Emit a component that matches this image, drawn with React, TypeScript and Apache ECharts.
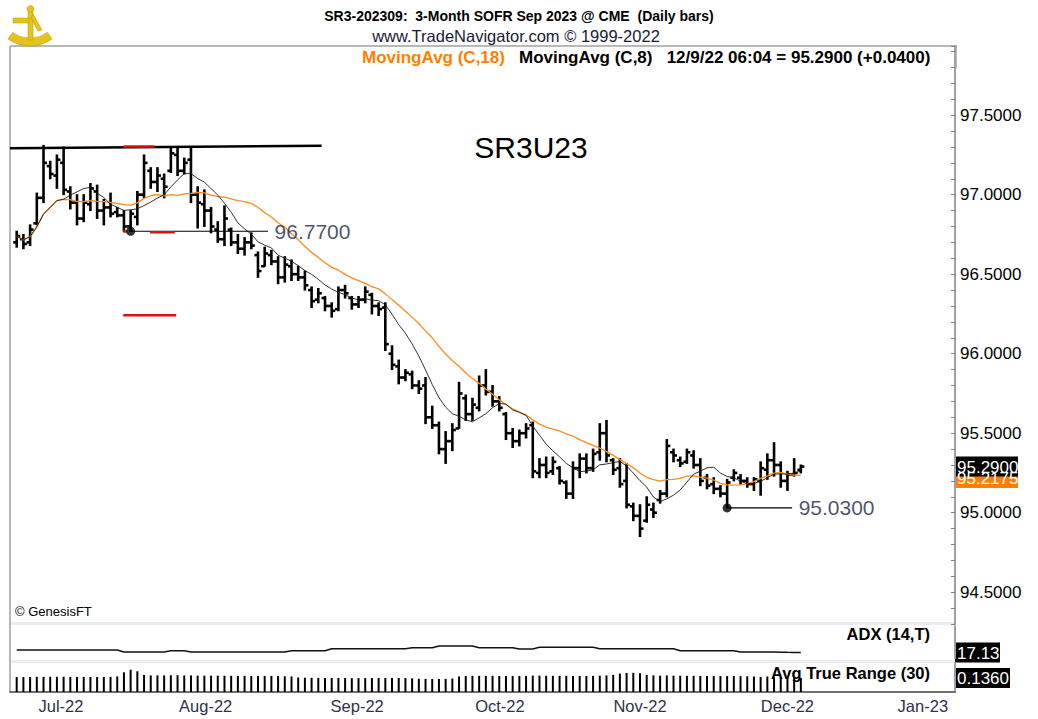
import React, { useEffect, useRef } from "react";
import * as echarts from "echarts";

// ---- Daily OHLC bars (trading-day index 0..117, late Jun 2022 .. 12/9/22) ----
const OPEN = [
  96.70, 96.72, 96.70, 96.82, 96.98, 97.18, 97.12, 97.20, 97.02, 96.95,
  96.85, 96.94, 97.02, 96.90, 96.92, 96.89, 96.87, 96.80, 96.86, 97.00,
  97.15, 97.08, 97.10, 97.15, 97.25, 97.15, 97.22, 97.00, 96.94, 96.90,
  96.78, 96.72, 96.78, 96.70, 96.66, 96.70, 96.62, 96.55, 96.62, 96.58,
  96.48, 96.55, 96.50, 96.48, 96.40, 96.34, 96.35, 96.30, 96.28, 96.40,
  96.35, 96.31, 96.34, 96.37, 96.30, 96.29, 96.00, 95.92, 95.85, 95.87,
  95.80, 95.80, 95.60, 95.55, 95.40, 95.45, 95.53, 95.72, 95.62, 95.66,
  95.80, 95.76, 95.70, 95.62, 95.50, 95.45, 95.50, 95.55, 95.25, 95.30,
  95.26, 95.28, 95.19, 95.12, 95.28, 95.34, 95.28, 95.38, 95.50, 95.33,
  95.28, 95.20, 95.04, 94.98, 94.95, 95.02, 95.08, 95.12, 95.38, 95.33,
  95.32, 95.36, 95.30, 95.22, 95.18, 95.15, 95.12, 95.22, 95.22, 95.20,
  95.18, 95.20, 95.27, 95.33, 95.30, 95.20, 95.24, 95.27,
];
const HIGH = [
  96.77, 96.75, 96.81, 97.01, 97.31, 97.21, 97.25, 97.30, 97.05, 97.00,
  97.00, 97.07, 97.06, 96.97, 97.01, 96.92, 96.90, 96.90, 97.02, 97.25,
  97.17, 97.17, 97.13, 97.30, 97.30, 97.23, 97.30, 97.05, 97.03, 96.92,
  96.83, 96.93, 96.79, 96.75, 96.73, 96.76, 96.64, 96.67, 96.65, 96.61,
  96.61, 96.59, 96.55, 96.52, 96.42, 96.41, 96.36, 96.32, 96.42, 96.43,
  96.36, 96.36, 96.42, 96.38, 96.32, 96.32, 96.05, 95.96, 95.90, 95.89,
  95.83, 95.85, 95.67, 95.57, 95.51, 95.56, 95.82, 95.74, 95.72, 95.86,
  95.90, 95.80, 95.73, 95.63, 95.53, 95.52, 95.56, 95.57, 95.34, 95.35,
  95.35, 95.29, 95.20, 95.32, 95.37, 95.37, 95.40, 95.56, 95.58, 95.34,
  95.34, 95.31, 95.06, 95.05, 95.10, 95.06, 95.14, 95.46, 95.40, 95.35,
  95.40, 95.39, 95.34, 95.24, 95.22, 95.17, 95.21, 95.27, 95.24, 95.22,
  95.22, 95.32, 95.37, 95.44, 95.32, 95.26, 95.34, 95.30,
];
const LOW = [
  96.67, 96.66, 96.68, 96.81, 96.95, 97.10, 97.04, 97.00, 96.91, 96.81,
  96.83, 96.90, 96.85, 96.81, 96.86, 96.86, 96.77, 96.77, 96.81, 96.98,
  97.04, 97.02, 96.98, 97.14, 97.12, 97.13, 96.95, 96.79, 96.80, 96.76,
  96.70, 96.68, 96.68, 96.63, 96.62, 96.66, 96.48, 96.55, 96.56, 96.44,
  96.45, 96.46, 96.46, 96.40, 96.29, 96.32, 96.27, 96.23, 96.27, 96.35,
  96.28, 96.29, 96.32, 96.25, 96.24, 96.02, 95.90, 95.81, 95.83, 95.78,
  95.75, 95.56, 95.53, 95.37, 95.31, 95.39, 95.53, 95.58, 95.58, 95.64,
  95.74, 95.67, 95.64, 95.46, 95.41, 95.42, 95.47, 95.22, 95.22, 95.22,
  95.24, 95.18, 95.09, 95.09, 95.22, 95.25, 95.26, 95.33, 95.32, 95.24,
  95.16, 95.03, 94.95, 94.85, 94.94, 94.97, 95.06, 95.10, 95.32, 95.29,
  95.31, 95.28, 95.17, 95.15, 95.12, 95.10, 95.03, 95.20, 95.18, 95.16,
  95.14, 95.11, 95.21, 95.23, 95.16, 95.14, 95.23, 95.25,
];
const CLOSE = [
  96.74, 96.69, 96.78, 96.98, 97.20, 97.13, 97.22, 97.03, 96.95, 96.85,
  96.95, 97.04, 96.90, 96.92, 96.88, 96.87, 96.80, 96.88, 97.00, 97.20,
  97.08, 97.12, 97.05, 97.26, 97.15, 97.20, 97.00, 96.95, 96.90, 96.80,
  96.72, 96.85, 96.70, 96.66, 96.70, 96.68, 96.52, 96.63, 96.58, 96.48,
  96.56, 96.50, 96.48, 96.43, 96.33, 96.38, 96.30, 96.27, 96.40, 96.38,
  96.31, 96.34, 96.39, 96.30, 96.28, 96.06, 95.93, 95.85, 95.88, 95.80,
  95.78, 95.60, 95.55, 95.40, 95.45, 95.52, 95.75, 95.62, 95.68, 95.80,
  95.76, 95.70, 95.66, 95.50, 95.45, 95.50, 95.53, 95.26, 95.30, 95.25,
  95.32, 95.20, 95.12, 95.28, 95.34, 95.28, 95.37, 95.50, 95.36, 95.27,
  95.18, 95.05, 94.98, 94.90, 95.05, 95.00, 95.12, 95.42, 95.36, 95.31,
  95.38, 95.30, 95.20, 95.17, 95.15, 95.12, 95.19, 95.25, 95.20, 95.18,
  95.21, 95.28, 95.33, 95.30, 95.20, 95.24, 95.25, 95.29,
];

// ---- ADX (14,T) ----
const ADX = [
  25, 25, 25, 25, 25, 25, 25, 25, 25, 25, 25, 25, 25, 25, 25, 25,
  18.8, 18.8, 18.8, 18.8, 18.8, 18.8, 18.8,
  22.9, 22.9, 22.9,
  18.8, 18.8, 18.8, 18.8, 18.8, 18.8, 18.8, 18.8, 18.8, 18.8, 18.8, 18.8, 18.8, 18.8, 18.8,
  22.9, 22.9, 22.9, 22.9, 22.9, 22.9,
  29, 29, 29, 29, 29, 29, 29, 29, 29, 29, 29, 29,
  32.3, 32.3, 32.3, 32.3,
  37.5, 37.5, 37.5, 37.5, 37.5, 37.5,
  32.3, 32.3, 32.3, 32.3, 32.3, 32.3,
  28, 28, 28,
  33.3, 33.3, 33.3, 33.3, 33.3, 33.3, 33.3, 33.3, 33.3,
  29, 29, 29, 29, 29, 29, 29, 29, 29, 29, 29, 29,
  22.9, 22.9, 22.9, 22.9, 22.9, 22.9, 22.9, 22.9, 22.9,
  18.8, 18.8, 18.8, 18.8, 18.8, 18.5, 18.2, 17.8, 17.5, 17.13,
];

// ---- Avg True Range (30) ----
const ATR = [
  0.145, 0.145, 0.145, 0.146, 0.146, 0.147, 0.147, 0.147, 0.146, 0.146,
  0.146, 0.145, 0.145, 0.145, 0.146, 0.150, 0.190, 0.215, 0.200, 0.165,
  0.160, 0.160, 0.160, 0.162, 0.162, 0.160, 0.160, 0.158, 0.158, 0.158,
  0.157, 0.157, 0.156, 0.156, 0.156, 0.155, 0.155, 0.155, 0.155, 0.154,
  0.152, 0.150, 0.140, 0.138, 0.137, 0.136, 0.136, 0.135, 0.135, 0.135,
  0.134, 0.134, 0.134, 0.134, 0.135, 0.136, 0.136, 0.135, 0.134, 0.132,
  0.128, 0.127, 0.126, 0.126, 0.127, 0.130, 0.150, 0.155, 0.156, 0.156,
  0.156, 0.156, 0.155, 0.155, 0.155, 0.155, 0.156, 0.158, 0.158, 0.157,
  0.156, 0.156, 0.156, 0.155, 0.155, 0.155, 0.156, 0.158, 0.160, 0.165,
  0.178, 0.184, 0.185, 0.182, 0.165, 0.160, 0.158, 0.160, 0.158, 0.157,
  0.156, 0.156, 0.155, 0.155, 0.155, 0.154, 0.154, 0.154, 0.153, 0.152,
  0.150, 0.145, 0.150, 0.142, 0.140, 0.137, 0.137, 0.136,
];

// ---- axis tick labels ----
const MONTH_TICKS = [6.6, 28.2, 50.8, 72.1, 93, 115, 135.2];
const MONTH_LABELS = ["Jul-22", "Aug-22", "Sep-22", "Oct-22", "Nov-22", "Dec-22", "Jan-23"];

// ---- readouts / annotations (values) ----
const LAST_CLOSE = 95.29;
const MA18_LAST = 95.2175;
const ADX_LAST = 17.13;
const ATR_LAST = 0.136;
const RESISTANCE: number[][] = [[-1, 97.292], [45.5, 97.308]];
const RED_MARKS: number[][][] = [
  [[15.9, 97.303], [20.6, 97.303]],
  [[19.9, 96.764], [23.6, 96.764]],
  [[15.9, 96.768], [16.5, 96.768]],
  [[15.9, 96.242], [23.8, 96.242]],
];
const SWING_LOWS = [
  { i: 17, v: 96.77, end: 37.5, label: "96.7700" },
  { i: 106, v: 95.03, end: 115.7, label: "95.0300" },
];

const FONT = "'Liberation Sans', Arial, Helvetica, sans-serif";

function movingAvg(values: number[], n: number): number[] {
  return values.map((_, i) => {
    const s = Math.max(0, i - n + 1);
    const w = values.slice(s, i + 1);
    return w.reduce((a, b) => a + b, 0) / w.length;
  });
}

export default function App() {
  const ref = useRef<HTMLDivElement>(null);

  useEffect(() => {
    document.body.style.margin = "0";
    if (!ref.current) return;
    const chart = echarts.init(ref.current, undefined, { renderer: "svg" });

    const ohlc = OPEN.map((o, i) => [i, o, HIGH[i], LOW[i], CLOSE[i]]);
    const ma18 = movingAvg(CLOSE, 18).map((v, i) => [i, v]);
    const ma8 = movingAvg(CLOSE, 8).map((v, i) => [i, v]);

    const xBase = { type: "value", min: -1, max: 140 } as any;
    const grayAxis = { show: true, onZero: false, lineStyle: { color: "#a0a0a0", width: 2 } };

    const series: any[] = [
      {
        type: "custom",
        xAxisIndex: 0,
        yAxisIndex: 0,
        data: ohlc,
        encode: { x: 0, y: [1, 2, 3, 4] },
        z: 3,
        renderItem: (_p: any, api: any) => {
          const i = api.value(0);
          const pO = api.coord([i, api.value(1)]);
          const pH = api.coord([i, api.value(2)]);
          const pL = api.coord([i, api.value(3)]);
          const pC = api.coord([i, api.value(4)]);
          const st = { stroke: "#000", lineWidth: 2.6 };
          return {
            type: "group",
            children: [
              { type: "line", shape: { x1: pH[0], y1: pH[1] - 0.5, x2: pL[0], y2: pL[1] + 0.5 }, style: st },
              { type: "line", shape: { x1: pO[0] - 3.5, y1: pO[1], x2: pO[0], y2: pO[1] }, style: st },
              { type: "line", shape: { x1: pC[0], y1: pC[1], x2: pC[0] + 3.5, y2: pC[1] }, style: st },
            ],
          };
        },
      },
      {
        type: "line",
        name: "MA18",
        data: ma18,
        showSymbol: false,
        symbol: "none",
        z: 4,
        lineStyle: { color: "#ff8a1c", width: 1.3 },
      },
      {
        type: "line",
        name: "MA8",
        data: ma8,
        showSymbol: false,
        symbol: "none",
        z: 4,
        lineStyle: { color: "#1a1a1a", width: 0.9 },
      },
      {
        type: "line",
        data: RESISTANCE,
        symbol: "none",
        z: 5,
        lineStyle: { color: "#000", width: 2.6 },
      },
      ...RED_MARKS.map((seg) => ({
        type: "line",
        data: seg,
        symbol: "none",
        z: 6,
        lineStyle: { color: "#e01010", width: 2.6 },
      })),
      ...SWING_LOWS.map((s) => ({
        type: "line",
        data: [[s.i, s.v], [s.end, s.v]],
        symbol: "none",
        z: 5,
        lineStyle: { color: "#000", width: 1.2 },
      })),
      {
        type: "scatter",
        data: SWING_LOWS.map((s) => [s.i, s.v]),
        symbolSize: 9,
        z: 7,
        itemStyle: { color: "#000" },
      },
      {
        type: "scatter",
        data: SWING_LOWS.map((s) => ({ value: [s.end, s.v], name: s.label })),
        symbolSize: 1,
        z: 7,
        itemStyle: { color: "rgba(0,0,0,0)" },
        label: {
          show: true,
          position: "right",
          distance: 6,
          formatter: (p: any) => p.name,
          fontSize: 21,
          color: "#1c2745",
          fontFamily: FONT,
        },
      },
      {
        type: "line",
        xAxisIndex: 1,
        yAxisIndex: 1,
        data: ADX.map((v, i) => [i, v]),
        symbol: "none",
        lineStyle: { color: "#111", width: 1.5 },
      },
      {
        type: "bar",
        xAxisIndex: 2,
        yAxisIndex: 2,
        data: ATR.map((v, i) => [i, v]),
        barWidth: 2,
        itemStyle: { color: "#000" },
      },
    ];

    const option: any = {
      animation: false,
      backgroundColor: "#ffffff",
      textStyle: { fontFamily: FONT },
      grid: [
        { left: 10, top: 46, width: 945, height: 578, outerBoundsMode: "none" },
        { left: 10, top: 626, width: 945, height: 32, outerBoundsMode: "none" },
        { left: 10, top: 663, width: 945, height: 29, outerBoundsMode: "none" },
      ],
      xAxis: [
        { ...xBase, gridIndex: 0, show: false },
        { ...xBase, gridIndex: 1, show: false },
        {
          ...xBase,
          gridIndex: 2,
          axisLine: { show: true, onZero: false, lineStyle: { color: "#707070", width: 2 } },
          axisTick: { show: false },
          splitLine: { show: false },
          axisLabel: {
            customValues: MONTH_TICKS,
            formatter: (v: number) => {
              let best = 0;
              MONTH_TICKS.forEach((t, k) => {
                if (Math.abs(t - v) < Math.abs(MONTH_TICKS[best] - v)) best = k;
              });
              return MONTH_LABELS[best];
            },
            fontSize: 16.5,
            color: "#30304a",
            margin: 5,
            fontFamily: FONT,
          },
        },
      ],
      yAxis: [
        {
          type: "value",
          gridIndex: 0,
          position: "right",
          min: 94.3,
          max: 97.935,
          interval: 0.1,
          axisLine: grayAxis,
          axisTick: { show: true, inside: true, length: 4, lineStyle: { color: "#808080" } },
          splitLine: { show: false },
          axisLabel: {
            fontSize: 17,
            color: "#000",
            margin: 5,
            fontFamily: FONT,
            formatter: (v: number) =>
              Math.abs(v * 2 - Math.round(v * 2)) < 1e-6 ? v.toFixed(4) : "",
          },
        },
        {
          type: "value",
          gridIndex: 1,
          position: "right",
          min: 0,
          max: 100,
          axisLine: grayAxis,
          axisTick: { show: false },
          axisLabel: { show: false },
          splitLine: { show: false },
        },
        {
          type: "value",
          gridIndex: 2,
          position: "right",
          min: 0,
          max: 0.28,
          axisLine: grayAxis,
          axisTick: { show: false },
          axisLabel: { show: false },
          splitLine: { show: false },
        },
      ],
      series,
    };

    chart.setOption(option);

    const yClose = chart.convertToPixel({ yAxisIndex: 0 } as any, LAST_CLOSE) as number;
    const yMa = chart.convertToPixel({ yAxisIndex: 0 } as any, MA18_LAST) as number;
    const yAdx = chart.convertToPixel({ yAxisIndex: 1 } as any, ADX_LAST) as number;
    const yAtr = chart.convertToPixel({ yAxisIndex: 2 } as any, ATR_LAST) as number;

    const txt = (text: string, x: number, y: number, o: any = {}) => ({
      type: "text",
      x,
      y,
      z: 20,
      style: {
        text,
        fill: o.fill || "#000",
        fontSize: o.size || 16,
        fontWeight: o.weight || "normal",
        fontFamily: FONT,
        align: o.align || "left",
        verticalAlign: "middle",
      },
    });
    const box = (text: string, y: number, w: number, fill: string) => ({
      type: "group",
      z: 20,
      children: [
        { type: "rect", shape: { x: 955, y: y - 10, width: w, height: 20 }, style: { fill } },
        txt(text, 957, y + 0.5, { fill: "#fff", size: 17 }),
      ],
    });
    const gold = "#e6c31a";

    chart.setOption({
      graphic: [
        // frame
        { type: "line", shape: { x1: 10, y1: 46, x2: 957, y2: 46 }, style: { stroke: "#a0a0a0", lineWidth: 1.5 } },
        { type: "line", shape: { x1: 10, y1: 46, x2: 10, y2: 692 }, style: { stroke: "#a0a0a0", lineWidth: 1.5 } },
        { type: "line", shape: { x1: 956, y1: 46, x2: 956, y2: 68 }, style: { stroke: "#a0a0a0", lineWidth: 1.5 } },
        { type: "rect", shape: { x: 11, y: 622, width: 944, height: 3 }, style: { fill: "#ececec" } },
        { type: "rect", shape: { x: 11, y: 660, width: 944, height: 3 }, style: { fill: "#ececec" } },
        // logo
        {
          type: "group",
          children: [
            { type: "sector", shape: { cx: 30, cy: 8, r0: 30, r: 38, startAngle: Math.PI / 2 - 0.62, endAngle: Math.PI / 2 + 0.62 }, style: { fill: gold, stroke: "#b89400", lineWidth: 0.5 } },
            { type: "rect", shape: { x: 28, y: 8, width: 5, height: 32 }, style: { fill: gold, stroke: "#b89400", lineWidth: 0.5 } },
            { type: "rect", shape: { x: 13, y: 18, width: 16, height: 5 }, style: { fill: gold, stroke: "#b89400", lineWidth: 0.5 } },
            { type: "circle", shape: { cx: 30.5, cy: 9, r: 3.5 }, style: { fill: gold, stroke: "#b89400", lineWidth: 0.5 } },
            { type: "polygon", shape: { points: [[33, 14], [42, 30], [38, 31], [31, 18]] }, style: { fill: gold, stroke: "#b89400", lineWidth: 0.5 } },
          ],
        },
        // header
        txt("SR3-202309:  3-Month SOFR Sep 2023 @ CME  (Daily bars)", 519, 16, { size: 14, weight: "bold", align: "center" }),
        txt("www.TradeNavigator.com \u00a9 1999-2022", 516, 36, { size: 16.5, align: "center", fill: "#1a1a33" }),
        txt("MovingAvg (C,18)", 362, 57, { size: 17, weight: "bold", fill: "#ff8000" }),
        txt("MovingAvg (C,8)   12/9/22 06:04 = 95.2900 (+0.0400)", 519, 57, { size: 17, weight: "bold" }),
        txt("SR3U23", 531, 147, { size: 30, align: "center" }),
        txt("\u00a9 GenesisFT", 15, 611, { size: 13 }),
        txt("ADX (14,T)", 930, 634, { size: 16.5, weight: "bold", align: "right" }),
        txt("Avg True Range (30)", 930, 673, { size: 16.5, weight: "bold", align: "right" }),
        // readouts
        box(MA18_LAST.toFixed(4), yMa, 63, "#ff8000"),
        box(LAST_CLOSE.toFixed(4), yClose, 63, "#000"),
        box(ADX_LAST.toFixed(2), yAdx, 45, "#000"),
        box(ATR_LAST.toFixed(4), yAtr, 55, "#000"),
      ],
    });

    return () => chart.dispose();
  }, []);

  return <div ref={ref} style={{ width: 1038, height: 719 }} />;
}
